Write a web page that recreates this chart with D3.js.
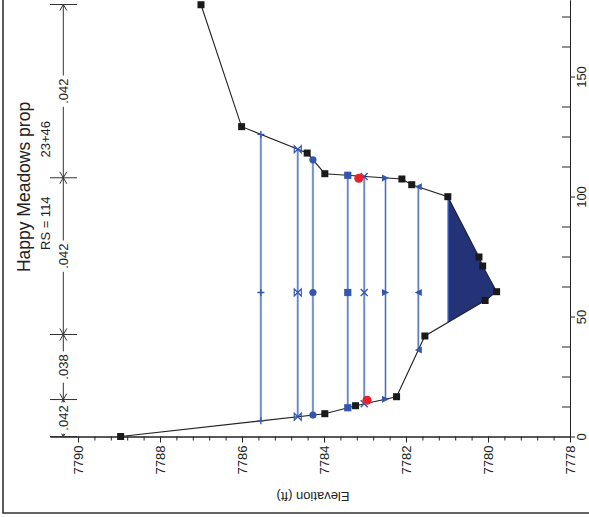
<!DOCTYPE html>
<html><head><meta charset="utf-8">
<script src="https://cdn.jsdelivr.net/npm/d3@7"></script>
<style>html,body{margin:0;padding:0;background:#fff;} svg{display:block;font-family:"Liberation Sans",Arial,sans-serif;}</style>
</head><body><svg id="c" width="589" height="517"></svg>
<script>
// ---- data ----
const title = "Happy Meadows prop";
const subtitleLeft = "RS = 114";
const subtitleRight = "23+46";
const axisTitle = "Elevation (ft)";
const station = [0, 9.5, 12.83, 16.58, 41.88, 56.67, 60.33, 71.04, 74.79, 99.92, 104.92, 107.29, 109.5, 118.1, 129.1, 179.9];
const elevation = [7788.96, 7783.98, 7783.23, 7782.23, 7781.54, 7780.07, 7779.79, 7780.13, 7780.22, 7780.98, 7781.86, 7782.10, 7783.98, 7784.41, 7786.01, 7787.0];
const profileMarkers = ["plus", "bowtie", "circle", "square", "cross", "triRight", "triLeft"];
const profileWS = [7785.54, 7784.64, 7784.27, 7783.42, 7783.02, 7782.50, 7781.70];
const profileMidStation = [60, 60, 60, 60, 60, 60, 60];
const filledWS = 7780.97;
const bankStation = [15.1, 107.6];
const bankElevation = [7782.95, 7783.15];
const nStations = [0, 15.4, 42.5, 107.8, 180];
const nValues = [".042", ".038", ".042", ".042"];
const elevTicks = [7778, 7780, 7782, 7784, 7786, 7788, 7790];
const stationTicks = [0, 50, 100, 150];

// ---- scales ----
const svg = d3.select("#c");
const x = d3.scaleLinear().domain([7778, 7790.683]).range([570, 50]);   // elevation -> horizontal
const y = d3.scaleLinear().domain([0, 181.875]).range([436.5, 0]);     // station -> vertical
const dark = "#222";
const blue = "#3556ad";
const n = station.length;
const ground = station.map((s, i) => [s, elevation[i]]);

// border
svg.append("path").attr("d", "M3,0V513H589").attr("fill", "none").attr("stroke", "#333").attr("stroke-width", 1.6);

// ---- axes ----
const minorElev = d3.range(0, 31).map(i => 7778 + i * 0.4).filter(v => Math.abs((v - 7778) / 2 - Math.round((v - 7778) / 2)) > 1e-6);
svg.append("g").attr("transform", "translate(0,436.5)")
  .call(d3.axisBottom(x).tickValues(minorElev).tickSize(4).tickSizeOuter(0).tickFormat(""));
const gx = svg.append("g").attr("transform", "translate(0,436.5)")
  .call(d3.axisBottom(x).tickValues(elevTicks).tickSize(6).tickSizeOuter(0).tickFormat(d3.format("d")));
gx.selectAll("text").attr("transform", "rotate(-90)").attr("x", -9).attr("y", 0)
  .attr("dy", "0.35em").attr("text-anchor", "end").style("font-size", "13px").attr("fill", dark);

const minorSta = d3.range(0, 15).map(i => i * 12.5).filter(v => v % 50 !== 0);
svg.append("g").attr("transform", "translate(570,0)")
  .call(d3.axisRight(y).tickValues(minorSta).tickSize(-8).tickSizeOuter(0).tickFormat(""));
const gy = svg.append("g").attr("transform", "translate(570,0)")
  .call(d3.axisRight(y).tickValues(stationTicks).tickSize(5).tickSizeOuter(0));
gy.selectAll("text").attr("transform", "rotate(-90)").attr("x", 0).attr("y", 11)
  .attr("dy", "0.35em").attr("text-anchor", "middle").style("font-size", "13px").attr("fill", dark);
svg.selectAll(".domain, .tick line").attr("stroke", dark);

svg.append("text").attr("transform", "translate(313,497) rotate(180)").attr("text-anchor", "middle")
  .attr("dy", "0.35em").style("font-size", "13px").attr("fill", dark).text(axisTitle);

// titles
svg.append("text").attr("transform", "translate(24,187) rotate(-90)").attr("text-anchor", "middle")
  .attr("dy", "0.35em").style("font-size", "17.5px").attr("fill", dark).text(title);
svg.append("text").attr("transform", "translate(45,250) rotate(-90)").attr("text-anchor", "start")
  .attr("dy", "0.35em").style("font-size", "13px").attr("fill", dark).text(subtitleLeft);
svg.append("text").attr("transform", "translate(45,121) rotate(-90)").attr("text-anchor", "end")
  .attr("dy", "0.35em").style("font-size", "13px").attr("fill", dark).text(subtitleRight);

// ---- n-value annotation ----
const nx = 63.3;
const ng = svg.append("g").attr("stroke", "#333").attr("fill", "none").attr("stroke-width", 1);
ng.append("line").attr("x1", nx).attr("x2", nx).attr("y1", y(nStations[0])).attr("y2", y(nStations[nStations.length - 1]));
nStations.forEach((s, i) => {
  const yb = y(s);
  ng.append("line").attr("x1", 50).attr("x2", 77).attr("y1", yb).attr("y2", yb);
  if (i > 0) ng.append("path").attr("d", `M${nx - 3.5},${yb + 6}L${nx},${yb}L${nx + 3.5},${yb + 6}`);
  if (i < nStations.length - 1) ng.append("path").attr("d", `M${nx - 3.5},${yb - 6}L${nx},${yb}L${nx + 3.5},${yb - 6}`);
});
nValues.forEach((v, i) => {
  const yc = (y(nStations[i]) + y(nStations[i + 1])) / 2;
  const g = svg.append("g").attr("transform", `translate(${nx},${yc}) rotate(-90)`);
  const t = g.append("text").attr("text-anchor", "middle").attr("dy", "0.35em").style("font-size", "13px").attr("fill", dark).text(v);
  const w = t.node().getComputedTextLength();
  g.insert("rect", "text").attr("x", -w / 2 - 3).attr("y", -6).attr("width", w + 6).attr("height", 12).attr("fill", "#fff");
});

// ---- crossings ----
function crossings(ws) {
  let left = null, right = null;
  for (let i = 0; i < n - 1; i++) {
    const e0 = elevation[i], e1 = elevation[i + 1];
    if (e0 >= ws && e1 < ws) { left = { i, s: station[i] + (e0 - ws) / (e0 - e1) * (station[i + 1] - station[i]) }; break; }
  }
  for (let i = n - 2; i >= 0; i--) {
    const e0 = elevation[i], e1 = elevation[i + 1];
    if (e0 < ws && e1 >= ws) { right = { i, s: station[i] + (ws - e0) / (e1 - e0) * (station[i + 1] - station[i]) }; break; }
  }
  return { left, right };
}
const line = d3.line().x(d => x(d[1])).y(d => y(d[0]));

// filled water
const fc = crossings(filledWS);
const poly = [[fc.left.s, filledWS]].concat(ground.slice(fc.left.i + 1, fc.right.i + 1)).concat([[fc.right.s, filledWS]]);
svg.append("path").attr("d", line(poly) + "Z").attr("fill", "#243377").attr("stroke", "none");
svg.append("path").attr("d", line([[fc.left.s, filledWS], [fc.right.s, filledWS]])).attr("stroke", "#3656b8").attr("stroke-width", 1.6);

// profile lines
const profiles = profileWS.map((ws, k) => ({ ws, type: profileMarkers[k], mid: profileMidStation[k], c: crossings(ws) }));
profiles.forEach(p => {
  const seg = line([[p.c.left.s, p.ws], [p.c.right.s, p.ws]]);
  svg.append("path").attr("d", seg).attr("stroke", "#b3c3e6").attr("stroke-width", 2.4);
  svg.append("path").attr("d", seg).attr("stroke", "#4d6fc2").attr("stroke-width", 1);
});

// ground
svg.append("path").attr("d", line(ground)).attr("fill", "none").attr("stroke", dark).attr("stroke-width", 1.1);
svg.selectAll("rect.gp").data(ground).enter().append("rect").attr("class", "gp")
  .attr("x", d => x(d[1]) - 3.5).attr("y", d => y(d[0]) - 3.5).attr("width", 7).attr("height", 7).attr("fill", "#1a1a1a");

// markers
function marker(type, cx, cy) {
  const s = 3.5;
  const g = svg.append("g");
  switch (type) {
    case "plus": g.append("path").attr("d", `M${cx - s},${cy}H${cx + s}M${cx},${cy - s}V${cy + s}`).attr("stroke", blue).attr("stroke-width", 1.4).attr("fill", "none"); break;
    case "cross": g.append("path").attr("d", `M${cx - s},${cy - s}L${cx + s},${cy + s}M${cx - s},${cy + s}L${cx + s},${cy - s}`).attr("stroke", blue).attr("stroke-width", 1.4).attr("fill", "none"); break;
    case "bowtie": g.append("path").attr("d", `M${cx - s},${cy - s}V${cy + s}L${cx + s},${cy - s}V${cy + s}Z`).attr("stroke", blue).attr("stroke-width", 1.2).attr("fill", "none"); break;
    case "circle": g.append("circle").attr("cx", cx).attr("cy", cy).attr("r", 3.6).attr("fill", blue); break;
    case "square": g.append("rect").attr("x", cx - 3.6).attr("y", cy - 3.6).attr("width", 7.2).attr("height", 7.2).attr("fill", blue); break;
    case "triRight": g.append("path").attr("d", `M${cx - s},${cy - s}L${cx + s},${cy}L${cx - s},${cy + s}Z`).attr("fill", blue); break;
    case "triLeft": g.append("path").attr("d", `M${cx + s},${cy - s}L${cx - s},${cy}L${cx + s},${cy + s}Z`).attr("fill", blue); break;
  }
}
profiles.forEach(p => {
  [p.c.left.s, p.mid, p.c.right.s].forEach(s => marker(p.type, x(p.ws), y(s)));
});

// bank stations
svg.selectAll("circle.bank").data(bankStation).enter().append("circle").attr("class", "bank")
  .attr("cx", (d, i) => x(bankElevation[i])).attr("cy", d => y(d)).attr("r", 4.6).attr("fill", "#e8212b");
</script></body></html>
